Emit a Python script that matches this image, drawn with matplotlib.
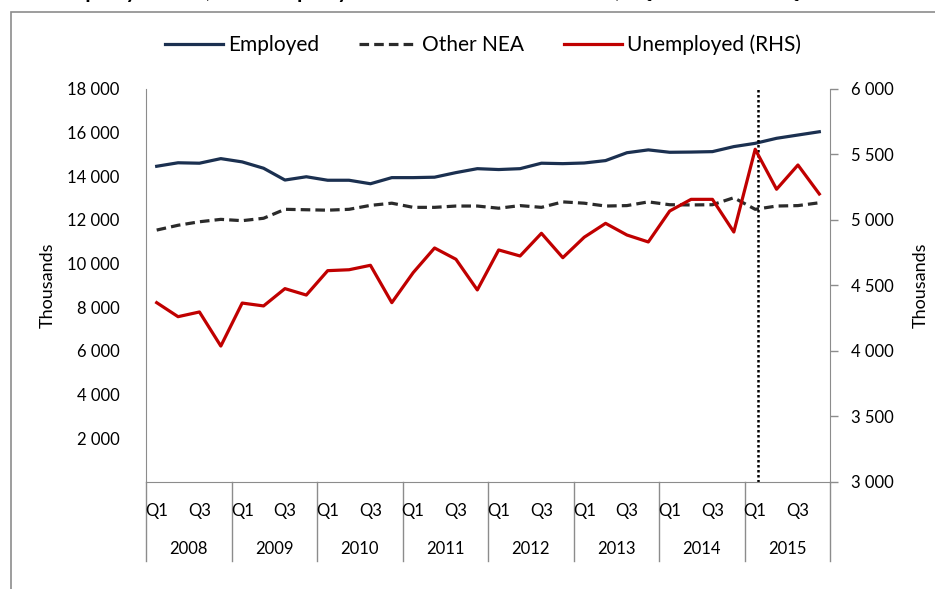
"""Employed / other NEA (LHS) and unemployed (RHS), quarterly 2008-2015."""

import matplotlib

matplotlib.use("Agg")
import matplotlib.pyplot as plt
from matplotlib.patches import Rectangle
from matplotlib.ticker import FuncFormatter

plt.rcParams["font.family"] = ["Lato", "DejaVu Sans"]

years = ["2008", "2009", "2010", "2011", "2012", "2013", "2014", "2015"]
quarters = ["Q1", "Q2", "Q3", "Q4"]
shown_quarters = ["Q1", "Q3"]

# thousands
employed = [14450, 14610, 14590, 14800, 14650, 14360, 13820, 13970,
            13810, 13810, 13650, 13930, 13930, 13950, 14160, 14340,
            14300, 14340, 14590, 14570, 14600, 14710, 15070, 15200,
            15090, 15100, 15120, 15350, 15500, 15730, 15880, 16030]
other_nea = [11530, 11750, 11910, 12020, 11960, 12070, 12480, 12460,
             12440, 12480, 12660, 12760, 12570, 12570, 12630, 12630,
             12530, 12650, 12570, 12820, 12760, 12630, 12650, 12820,
             12690, 12680, 12690, 13010, 12480, 12630, 12650, 12780]
unemployed = [4368, 4261, 4297, 4037, 4365, 4343, 4475, 4426,
              4612, 4619, 4653, 4368, 4597, 4785, 4699, 4465,
              4770, 4724, 4897, 4711, 4867, 4973, 4884, 4831,
              5067, 5156, 5156, 4907, 5538, 5233, 5418, 5197]

left_ticks = [2000, 4000, 6000, 8000, 10000, 12000, 14000, 16000, 18000]
right_ticks = [3000, 3500, 4000, 4500, 5000, 5500, 6000]
break_at = 28.15  # dotted marker at start of 2015

C_EMP = "#1b3050"
C_NEA = "#2b2b2b"
C_UNEMP = "#c00000"
GREY = "#8c8c8c"

W, H = 935, 589
fig = plt.figure(figsize=(W / 100, H / 100), dpi=100)

x0, x1, ytop, ybot = 146, 830, 88.7, 482
ax = fig.add_axes([x0 / W, 1 - ybot / H, (x1 - x0) / W, (ybot - ytop) / H])
ax2 = ax.twinx()

n = len(employed)
xs = list(range(n))
l1, = ax.plot(xs, employed, color=C_EMP, lw=2.3, label="Employed")
l2, = ax.plot(xs, other_nea, color=C_NEA, lw=2.3, ls=(0, (3, 1.6)),
              label="Other NEA")
l3, = ax2.plot(xs, unemployed, color=C_UNEMP, lw=2.3,
               label="Unemployed (RHS)")
ax.axvline(break_at, color="black", lw=1.8, ls=(0, (1, 1)))

ax.set_xlim(-0.5, n - 0.5)
ax.set_ylim(0, 18000)
ax2.set_ylim(3000, 6000)

fmt = FuncFormatter(lambda v, _: f"{int(v):,}".replace(",", " "))
ax.set_yticks(left_ticks)
ax.yaxis.set_major_formatter(fmt)
ax2.set_yticks(right_ticks)
ax2.yaxis.set_major_formatter(fmt)
ax.tick_params(axis="y", length=0, pad=19, labelsize=12)
ax2.tick_params(axis="y", length=6, width=1, color=GREY, pad=9,
                labelsize=12)
ax.set_xticks([])

for a in (ax, ax2):
    for s in a.spines.values():
        s.set_visible(False)
ax.spines["left"].set_visible(True)
ax.spines["left"].set_color(GREY)
ax.spines["bottom"].set_visible(True)
ax.spines["bottom"].set_color(GREY)
ax2.spines["right"].set_visible(True)
ax2.spines["right"].set_color(GREY)

ax.set_ylabel("Thousands", fontsize=13, labelpad=8)
ax2.set_ylabel("Thousands", fontsize=13, labelpad=14)

# category axis: quarter labels, year labels and separators
tr = ax.get_xaxis_transform()
sep_depth = -(561 - ybot) / (ybot - ytop)
q_y = -(510.7 - ybot) / (ybot - ytop)
yr_y = -(549 - ybot) / (ybot - ytop)
nq = len(quarters)
for yi, yr in enumerate(years):
    for qi, q in enumerate(quarters):
        if q in shown_quarters:
            ax.text(yi * nq + qi, q_y, q, transform=tr, ha="center",
                    va="center", fontsize=12)
    ax.text(yi * nq + (nq - 1) / 2, yr_y, yr, transform=tr, ha="center",
            va="center", fontsize=12)
for k in range(len(years) + 1):
    ax.plot([k * nq - 0.5] * 2, [0, sep_depth], transform=tr, color=GREY,
            lw=1, clip_on=False)

fig.legend(handles=[l1, l2, l3], loc="center", ncol=3, frameon=False,
           bbox_to_anchor=(483 / W, 1 - 45 / H), fontsize=15,
           handlelength=2.8, handletextpad=0.25, columnspacing=1.9)

# outer chart frame and clipped title, as in the source export
fig.add_artist(Rectangle((11 / W, -0.1), 1.2, 1.1 - 12 / H,
                         transform=fig.transFigure, fill=False,
                         edgecolor=GREY, lw=1.2))
fig.text(0.5, 1 + 3 / H, "Employment, Unemployment and other NEA, Q1 2008 – Q4 2015",
         ha="center", va="baseline", fontsize=21)

fig.savefig("out.png", dpi=100)
